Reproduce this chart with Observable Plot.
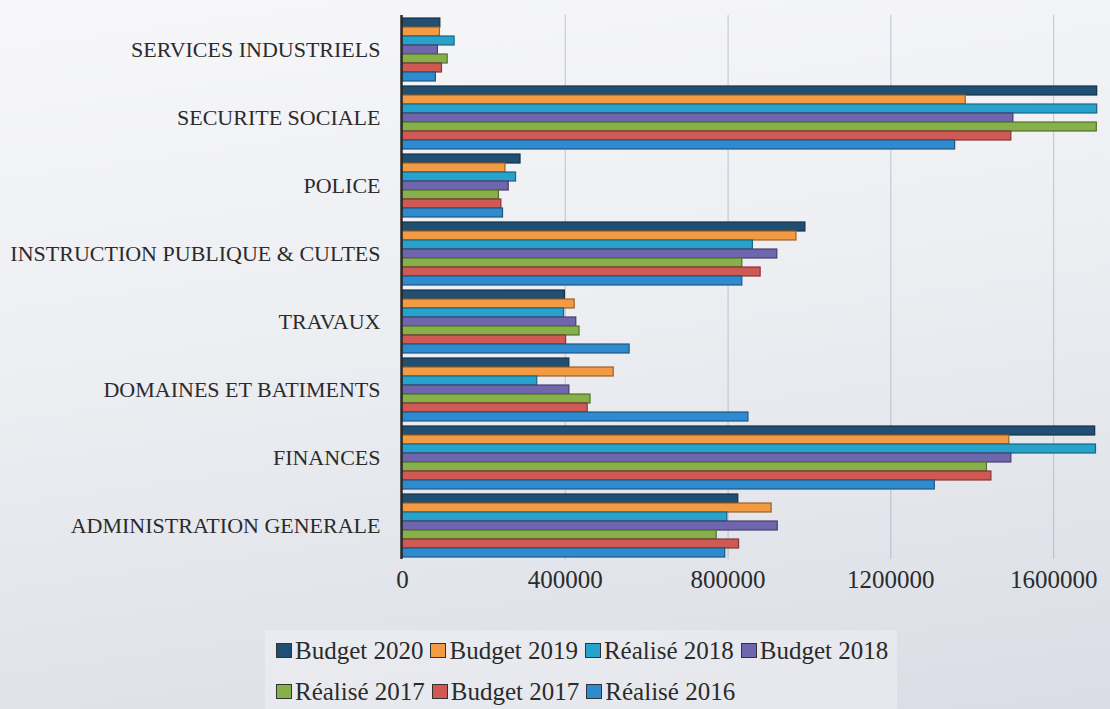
<!DOCTYPE html>
<html><head><meta charset="utf-8">
<script src="https://cdn.jsdelivr.net/npm/d3@7"></script>
<script src="https://cdn.jsdelivr.net/npm/@observablehq/plot@0.6"></script>
<style>
html,body{margin:0;padding:0;width:1110px;height:709px;overflow:hidden;}
body{background:linear-gradient(172deg,#f7f7f9 0%,#eceef2 45%,#dadde5 100%);font-family:"Liberation Serif",serif;color:#2b2b2b;position:relative;}
#chart svg{display:block;background:transparent;}
#legend{position:absolute;left:265px;top:630px;width:632px;height:79px;background:rgba(255,255,255,0.28);}
.row{display:flex;height:41px;align-items:center;padding-left:11px;}
.item{display:flex;align-items:center;margin-right:7px;font-size:25px;white-space:nowrap;}
.sw{width:16px;height:15px;border:1px solid #333;margin-right:3px;box-sizing:border-box;}
</style></head><body>
<div id="chart"></div><div id="legend"></div>
<script>
const categories = ["SERVICES INDUSTRIELS","SECURITE SOCIALE","POLICE","INSTRUCTION PUBLIQUE & CULTES","TRAVAUX","DOMAINES ET BATIMENTS","FINANCES","ADMINISTRATION GENERALE"];
const series = ["Budget 2020","Budget 2019","Réalisé 2018","Budget 2018","Réalisé 2017","Budget 2017","Réalisé 2016"];
const colors = ["#1f4f73","#f39a45","#27a2cc","#6f66ad","#86b04a","#cf5955","#2e8bd0"];
const xTicks = [0, 400000, 800000, 1200000, 1600000];

const budget2020  = [93000, 1707000, 290000, 990000, 399000, 410000, 1702000, 825000];
const budget2019  = [92000, 1384000, 253000, 968000, 423000, 519000, 1491000, 907000];
const realise2018 = [128000, 1707000, 279000, 861000, 397000, 331000, 1704000, 798000];
const budget2018  = [87000, 1501000, 261000, 921000, 427000, 410000, 1496000, 922000];
const realise2017 = [111000, 1706000, 237000, 835000, 435000, 462000, 1436000, 772000];
const budget2017  = [97000, 1496000, 243000, 880000, 402000, 455000, 1447000, 827000];
const realise2016 = [82000, 1358000, 247000, 835000, 558000, 850000, 1308000, 793000];

const values = [budget2020, budget2019, realise2018, budget2018, realise2017, budget2017, realise2016];
const table = series.flatMap((s, i) => categories.map((c, j) => ({
  series: s, category: c, value: values[i][j],
  edge: d3.color(colors[i]).darker(1.3).formatHex()
})));

const chart = Plot.plot({
  width: 1110, height: 620,
  marginLeft: 402, marginRight: 8, marginTop: 13, marginBottom: 59,
  style: {fontFamily: '"Liberation Serif", serif', fontSize: "22px", color: "#2b2b2b", background: "transparent", overflow: "visible"},
  x: {domain: [0, 1720000]},
  y: {domain: series, paddingInner: 0.02, paddingOuter: 0.08, axis: null},
  fy: {domain: categories, padding: 0},
  color: {domain: series, range: colors},
  marks: [
    Plot.gridX(xTicks.slice(1), {stroke: "#8b97b0", strokeOpacity: 0.5, strokeWidth: 1}),
    Plot.barX(table, {x: "value", y: "series", fy: "category", fill: "series",
      stroke: {value: "edge", scale: null}, strokeWidth: 1.2}),
    Plot.ruleX([0], {stroke: "#2a2a2a", strokeWidth: 2.5, dx: -1}),
    Plot.axisX(xTicks, {tickSize: 0, tickPadding: 11, fontSize: 25, tickFormat: d => String(d), label: null, fill: "#2b2b2b"}),
    Plot.axisFy({anchor: "left", tickSize: 0, tickPadding: 22, fontSize: 22, label: null, fill: "#2b2b2b"})
  ]
});
document.getElementById("chart").appendChild(chart);

const legend = document.getElementById("legend");
[series.slice(0, 4), series.slice(4)].forEach((rowSeries) => {
  const row = document.createElement("div");
  row.className = "row";
  rowSeries.forEach(s => {
    const item = document.createElement("div");
    item.className = "item";
    const sw = document.createElement("span");
    sw.className = "sw";
    sw.style.background = colors[series.indexOf(s)];
    const t = document.createElement("span");
    t.textContent = s;
    item.appendChild(sw); item.appendChild(t);
    row.appendChild(item);
  });
  legend.appendChild(row);
});
</script>
</body></html>
